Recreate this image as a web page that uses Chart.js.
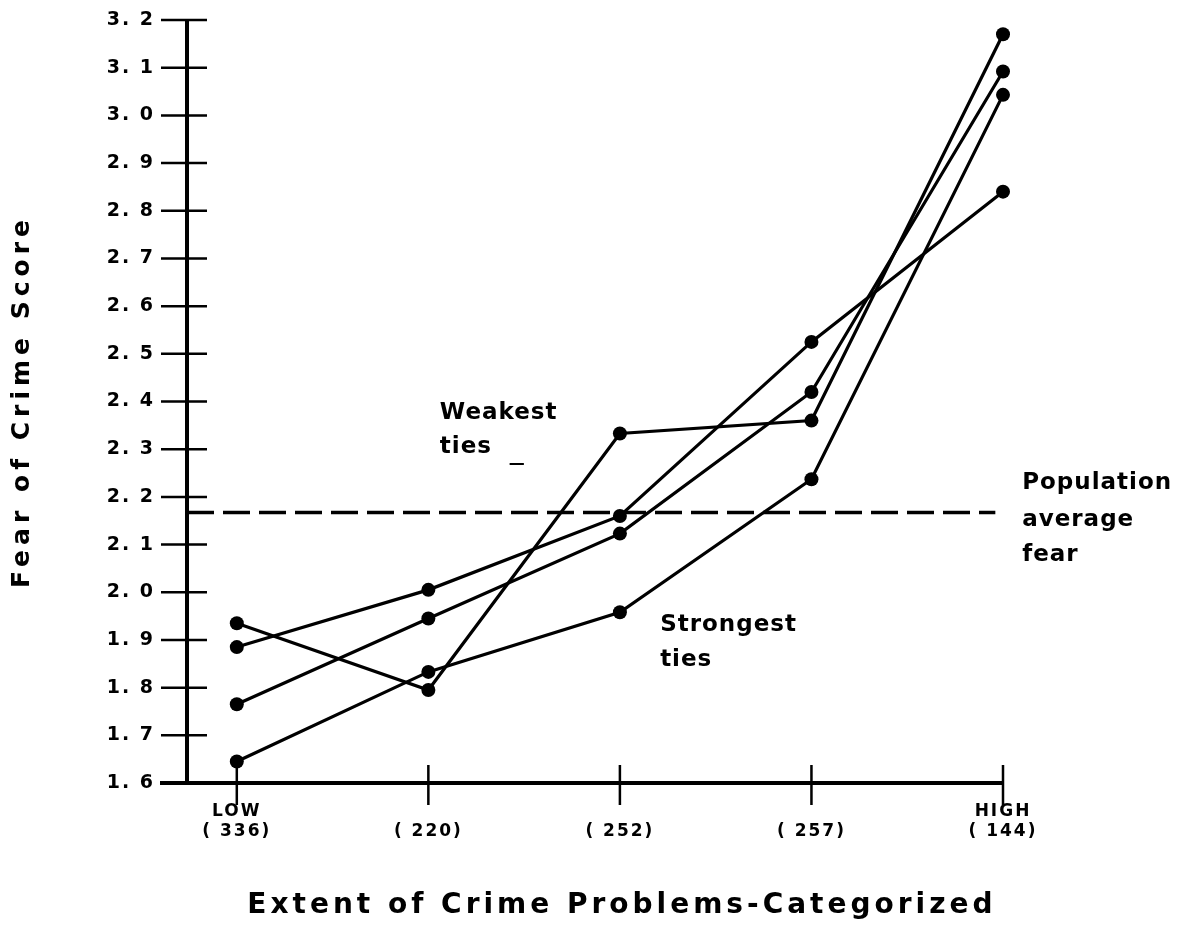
<!DOCTYPE html>
<html>
<head>
<meta charset="utf-8">
<title>Fear of crime by extent of crime problems</title>
<script src="https://cdn.jsdelivr.net/npm/chart.js@4.4.1/dist/chart.umd.min.js"></script>
<style>
  body { margin: 0; background: #fff; }
</style>
</head>
<body>
<canvas id="fear-chart" width="1180" height="952"></canvas>
<script>
// categories (x positions 0..4) and their labels
const categoryPos = [0, 1, 2, 3, 4];
const categoryNames = ["LOW", "", "", "", "HIGH"];
const categoryCounts = ["( 336)", "( 220)", "( 252)", "( 257)", "( 144)"];

// fear of crime score per tie-strength group
const weakestTies   = [1.935, 1.795, 2.333, 2.36, 3.17];
const secondTies    = [1.885, 2.005, 2.16, 2.525, 2.84];
const thirdTies     = [1.765, 1.945, 2.123, 2.42, 3.092];
const strongestTies = [1.645, 1.833, 1.958, 2.237, 3.043];

const populationAverage = 2.167;

const yTicks = [1.6, 1.7, 1.8, 1.9, 2.0, 2.1, 2.2, 2.3, 2.4, 2.5, 2.6, 2.7, 2.8, 2.9, 3.0, 3.1, 3.2];

const xTitle = "Extent of Crime Problems-Categorized";
const yTitle = "Fear of Crime Score";

// text notes placed in data coordinates
const notes = [
    {text: "Weakest", x: 1.06, y: 2.376},
    {text: "ties", x: 1.06, y: 2.304},
    {text: "Strongest", x: 2.21, y: 1.931},
    {text: "ties", x: 2.21, y: 1.858},
    {text: "Population", x: 4.10, y: 2.229},
    {text: "average", x: 4.10, y: 2.151},
    {text: "fear", x: 4.10, y: 2.078}
];

const FONT = "'DejaVu Sans', 'Liberation Sans', sans-serif";
const xStart = -0.26;

function toPoints(values) {
    return values.map((v, i) => ({x: categoryPos[i], y: v}));
}

function tieLine(values) {
    return {
        data: toPoints(values),
        borderColor: '#000',
        backgroundColor: '#000',
        borderWidth: 3.2,
        pointRadius: 7,
        pointBorderWidth: 0,
        pointBackgroundColor: '#000',
        tension: 0,
        clip: false
    };
}

// letter spacing for the library's own tick text
const spacingPlugin = {
    id: 'spacing',
    beforeLayout(chart) { chart.ctx.letterSpacing = '2px'; },
    beforeDraw(chart) { chart.ctx.letterSpacing = '2px'; }
};

// axis lines with crossing tick marks, drawn like the printed figure
const axesPlugin = {
    id: 'paperAxes',
    beforeDatasetsDraw(chart) {
        const {ctx, scales: {x, y}} = chart;
        const x0 = x.getPixelForValue(xStart);
        const x1 = x.getPixelForValue(categoryPos[categoryPos.length - 1]);
        const yb = y.getPixelForValue(yTicks[0]);
        const yt = y.getPixelForValue(yTicks[yTicks.length - 1]);
        ctx.save();
        ctx.strokeStyle = '#000';
        ctx.lineWidth = 4;
        ctx.beginPath();
        ctx.moveTo(x0, yt);
        ctx.lineTo(x0, yb + 2);
        ctx.moveTo(x0 - 27, yb);
        ctx.lineTo(x1, yb);
        ctx.stroke();

        ctx.lineWidth = 2.5;
        ctx.beginPath();
        for (let v of yTicks) {
            let py = y.getPixelForValue(v);
            ctx.moveTo(x0 - 26, py);
            ctx.lineTo(x0 + 20, py);
        }
        for (let v of categoryPos) {
            let px = x.getPixelForValue(v);
            ctx.moveTo(px, yb - 18);
            ctx.lineTo(px, yb + 22);
        }
        ctx.stroke();
        ctx.restore();
    },
    afterDraw(chart) {
        const {ctx, scales: {x, y}} = chart;
        ctx.save();
        ctx.fillStyle = '#000';
        ctx.textBaseline = 'middle';

        // notes
        ctx.font = "bold 23px " + FONT;
        ctx.letterSpacing = '1px';
        ctx.textAlign = 'left';
        for (let n of notes) {
            ctx.fillText(n.text, x.getPixelForValue(n.x), y.getPixelForValue(n.y));
        }
        // stray dash under "ties"
        ctx.font = "bold 16px " + FONT;
        ctx.letterSpacing = '0px';
        ctx.fillText("\u2014", x.getPixelForValue(1.42), y.getPixelForValue(2.27));

        // x title, centred on the middle category
        ctx.font = "bold 28px " + FONT;
        ctx.letterSpacing = '4px';
        ctx.textAlign = 'center';
        ctx.fillText(xTitle, x.getPixelForValue(categoryPos[2]) + 2, 906);

        // y title
        ctx.font = "bold 25px " + FONT;
        ctx.letterSpacing = '5px';
        ctx.translate(22, (y.getPixelForValue(yTicks[0]) + y.getPixelForValue(yTicks[yTicks.length - 1])) / 2);
        ctx.rotate(-Math.PI / 2);
        ctx.fillText(yTitle, 0, 0);
        ctx.restore();
    }
};

new Chart(document.getElementById('fear-chart'), {
    type: 'line',
    data: {
        datasets: [
            tieLine(weakestTies),
            tieLine(secondTies),
            tieLine(thirdTies),
            tieLine(strongestTies),
            {
                data: [{x: xStart, y: populationAverage}, {x: 3.96, y: populationAverage}],
                borderColor: '#000',
                borderWidth: 3.5,
                borderDash: [27, 9],
                pointRadius: 0
            }
        ]
    },
    options: {
        responsive: false,
        animation: false,
        devicePixelRatio: 1,
        layout: {padding: {top: 20, right: 177, left: 0, bottom: 0}},
        plugins: {legend: {display: false}, tooltip: {enabled: false}},
        scales: {
            x: {
                type: 'linear',
                min: xStart,
                max: 4,
                afterBuildTicks: (scale) => { scale.ticks = categoryPos.map(v => ({value: v})); },
                afterFit: (scale) => { scale.height = 169; },
                grid: {display: false, drawTicks: true, tickLength: 18},
                border: {display: false},
                ticks: {
                    autoSkip: false,
                    maxRotation: 0,
                    padding: 0,
                    color: '#000',
                    font: {family: FONT, size: 17, weight: 'bold', lineHeight: 1.2},
                    callback: (v) => {
                        let i = categoryPos.indexOf(v);
                        return i < 0 ? '' : [categoryNames[i], categoryCounts[i]];
                    }
                }
            },
            y: {
                type: 'linear',
                min: 1.6,
                max: 3.2,
                afterBuildTicks: (scale) => { scale.ticks = yTicks.map(v => ({value: v})); },
                afterFit: (scale) => { scale.width = 187; },
                grid: {display: false, drawTicks: true, tickLength: 32},
                border: {display: false},
                ticks: {
                    padding: 0,
                    color: '#000',
                    font: {family: FONT, size: 19, weight: 'bold'},
                    callback: (v) => v.toFixed(1).replace('.', '. ')
                }
            }
        }
    },
    plugins: [spacingPlugin, axesPlugin]
});
</script>
</body>
</html>
